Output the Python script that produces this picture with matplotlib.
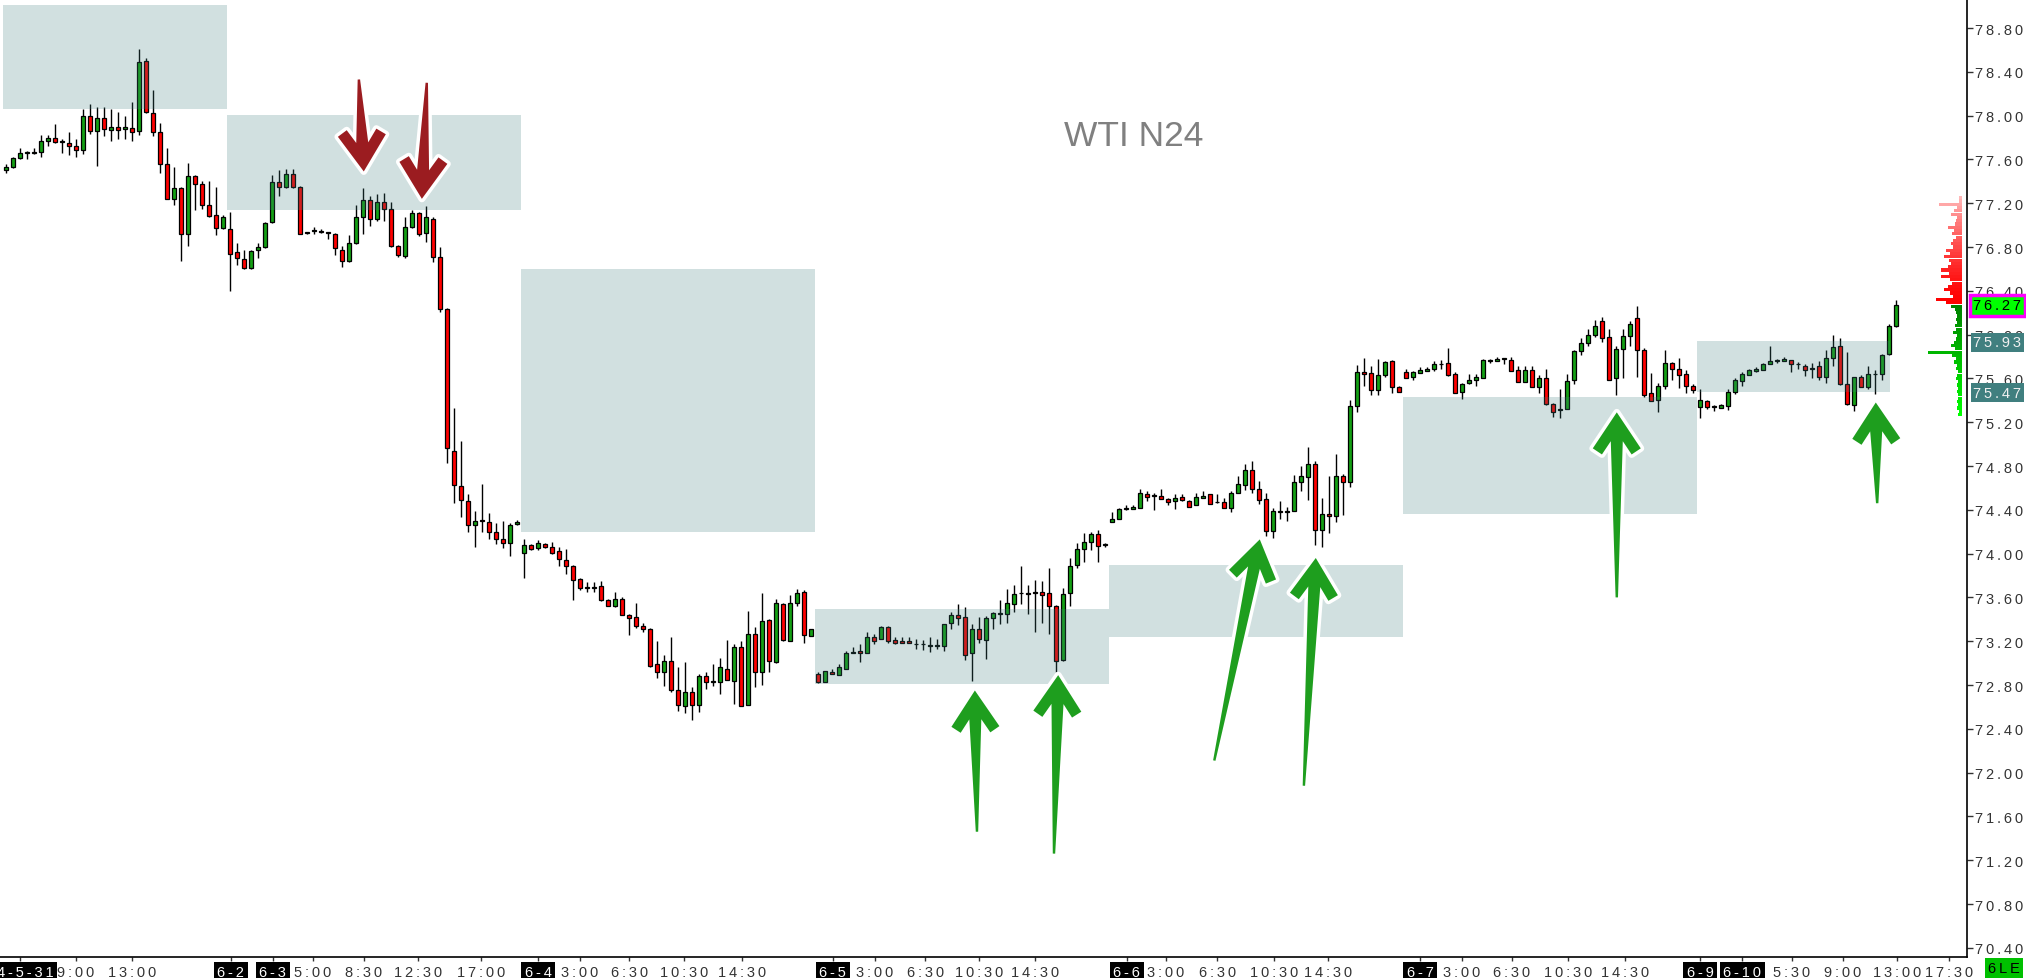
import numpy as np
import matplotlib
matplotlib.use('Agg')
import matplotlib.pyplot as plt
from matplotlib.patches import Rectangle, Polygon
import matplotlib.transforms as mtransforms

# WTI N24, 30 minute candles
opens = [77.50, 77.53, 77.61, 77.66, 77.66, 77.67, 77.77, 77.80, 77.76, 77.75,
         77.72, 77.69, 78.00, 77.86, 77.98, 77.87, 77.90, 77.88, 77.89, 77.86,
         78.50, 78.02, 77.85, 77.56, 77.24, 77.34, 76.92, 77.45, 77.38, 77.18,
         77.09, 76.97, 76.96, 76.75, 76.69, 76.61, 76.77, 76.80, 77.03, 77.39,
         77.35, 77.47, 77.35, 76.93, 76.95, 76.95, 76.94, 76.92, 76.77, 76.67,
         76.84, 77.07, 77.23, 77.06, 77.21, 77.15, 76.81, 76.72, 76.98, 77.11,
         76.93, 77.06, 76.71, 76.23, 74.94, 74.62, 74.48, 74.26, 74.31, 74.29,
         74.20, 74.13, 74.10, 74.27, 74.01, 74.08, 74.05, 74.09, 74.06, 74.02,
         73.94, 73.89, 73.77, 73.69, 73.69, 73.70, 73.58, 73.52, 73.59, 73.44,
         73.42, 73.34, 73.31, 72.99, 72.92, 73.02, 72.75, 72.61, 72.74, 72.62,
         72.88, 72.83, 72.83, 72.95, 72.84, 73.15, 72.62, 73.27, 72.92, 73.39,
         73.01, 73.54, 73.20, 73.55, 73.65, 73.25, 72.90, 72.83, 72.92, 72.89,
         72.95, 73.09, 73.11, 73.09, 73.24, 73.22, 73.33, 73.21, 73.20, 73.20,
         73.17, 73.17, 73.16, 73.16, 73.16, 73.37, 73.44, 73.42, 73.09, 73.31,
         73.21, 73.41, 73.45, 73.45, 73.54, 73.64, 73.64, 73.65, 73.65, 73.64,
         73.52, 73.03, 73.64, 73.90, 74.04, 74.11, 74.18, 74.08, 74.29, 74.32,
         74.41, 74.41, 74.42, 74.54, 74.53, 74.53, 74.50, 74.48, 74.52, 74.48,
         74.44, 74.51, 74.54, 74.47, 74.47, 74.42, 74.55, 74.63, 74.76, 74.59,
         74.50, 74.21, 74.39, 74.38, 74.39, 74.65, 74.70, 74.82, 74.22, 74.36,
         74.34, 74.71, 74.65, 75.35, 75.66, 75.65, 75.49, 75.63, 75.76, 75.52,
         75.66, 75.61, 75.65, 75.67, 75.69, 75.73, 75.74, 75.64, 75.48, 75.56,
         75.59, 75.60, 75.77, 75.76, 75.78, 75.77, 75.68, 75.57, 75.68, 75.52,
         75.60, 75.37, 75.31, 75.32, 75.59, 75.85, 75.92, 76.00, 76.12, 75.98,
         75.60, 75.87, 75.99, 76.15, 75.86, 75.47, 75.40, 75.53, 75.74, 75.69,
         75.64, 75.53, 75.34, 75.39, 75.34, 75.33, 75.35, 75.48, 75.58, 75.63,
         75.67, 75.68, 75.73, 75.76, 75.76, 75.77, 75.73, 75.71, 75.69, 75.71,
         75.61, 75.79, 75.90, 75.55, 75.36, 75.61, 75.52, 75.64, 75.64, 75.82, 76.08]
highs = [77.56, 77.62, 77.70, 77.68, 77.70, 77.82, 77.82, 77.92, 77.79, 77.85,
         77.79, 78.06, 78.11, 78.08, 78.08, 78.06, 78.03, 78.00, 78.12, 78.61,
         78.53, 78.23, 77.93, 77.70, 77.53, 77.35, 77.57, 77.46, 77.40, 77.40,
         77.35, 77.09, 77.12, 76.84, 76.77, 76.77, 76.84, 77.03, 77.46, 77.50,
         77.51, 77.51, 77.36, 76.94, 76.98, 76.96, 76.94, 76.93, 76.81, 76.91,
         77.18, 77.34, 77.27, 77.28, 77.29, 77.21, 76.82, 77.07, 77.14, 77.12,
         77.17, 77.07, 76.80, 76.24, 75.33, 75.03, 74.54, 74.39, 74.64, 74.37,
         74.28, 74.30, 74.28, 74.31, 74.13, 74.09, 74.12, 74.10, 74.11, 74.06,
         74.04, 73.90, 73.78, 73.74, 73.74, 73.75, 73.59, 73.65, 73.60, 73.45,
         73.55, 73.37, 73.32, 73.20, 73.07, 73.24, 72.96, 73.01, 72.78, 72.90,
         72.92, 72.99, 73.05, 73.21, 73.17, 73.20, 73.48, 73.33, 73.64, 73.40,
         73.59, 73.55, 73.62, 73.68, 73.67, 73.31, 72.92, 72.93, 72.95, 72.99,
         73.11, 73.15, 73.17, 73.28, 73.27, 73.34, 73.34, 73.24, 73.24, 73.24,
         73.22, 73.21, 73.24, 73.22, 73.36, 73.47, 73.54, 73.51, 73.36, 73.42,
         73.43, 73.47, 73.58, 73.68, 73.71, 73.89, 73.71, 73.76, 73.75, 73.87,
         73.53, 73.69, 73.96, 74.10, 74.19, 74.20, 74.22, 74.10, 74.38, 74.42,
         74.44, 74.44, 74.59, 74.57, 74.55, 74.59, 74.51, 74.54, 74.54, 74.49,
         74.55, 74.57, 74.54, 74.54, 74.51, 74.57, 74.71, 74.82, 74.85, 74.66,
         74.55, 74.42, 74.48, 74.43, 74.72, 74.80, 74.97, 74.85, 74.51, 74.71,
         74.91, 74.73, 75.40, 75.72, 75.79, 75.71, 75.78, 75.76, 75.77, 75.53,
         75.69, 75.67, 75.70, 75.70, 75.76, 75.77, 75.88, 75.66, 75.56, 75.64,
         75.64, 75.78, 75.78, 75.80, 75.79, 75.80, 75.71, 75.71, 75.71, 75.63,
         75.69, 75.38, 75.50, 75.64, 75.86, 75.97, 76.05, 76.13, 76.16, 76.05,
         75.90, 76.05, 76.12, 76.26, 75.88, 75.65, 75.56, 75.86, 75.75, 75.79,
         75.68, 75.55, 75.50, 75.40, 75.36, 75.37, 75.50, 75.60, 75.66, 75.69,
         75.70, 75.74, 75.90, 75.78, 75.80, 75.77, 75.75, 75.73, 75.74, 75.76,
         75.86, 76.00, 75.97, 75.84, 75.61, 75.63, 75.71, 75.68, 75.82, 76.10, 76.32]
lows = [77.48, 77.52, 77.60, 77.60, 77.65, 77.62, 77.72, 77.75, 77.66, 77.64,
        77.62, 77.65, 77.83, 77.54, 77.81, 77.77, 77.79, 77.79, 77.77, 77.82,
        78.02, 77.81, 77.48, 77.24, 77.18, 76.67, 76.81, 77.14, 77.15, 77.07,
        76.91, 76.96, 76.40, 76.64, 76.60, 76.60, 76.70, 76.79, 77.02, 77.27,
        77.34, 77.34, 76.92, 76.92, 76.92, 76.93, 76.87, 76.73, 76.62, 76.66,
        76.83, 76.92, 76.99, 77.04, 77.04, 76.80, 76.71, 76.70, 76.97, 76.90,
        76.85, 76.66, 76.21, 74.83, 74.46, 74.33, 74.20, 74.06, 74.20, 74.13,
        74.09, 74.05, 73.98, 74.26, 73.78, 74.03, 74.03, 74.05, 74.00, 73.89,
        73.81, 73.58, 73.67, 73.65, 73.65, 73.57, 73.52, 73.51, 73.44, 73.26,
        73.32, 73.28, 72.96, 72.86, 72.79, 72.74, 72.56, 72.54, 72.48, 72.55,
        72.76, 72.79, 72.72, 72.85, 72.63, 72.61, 72.62, 72.78, 72.80, 72.92,
        73.00, 73.20, 73.20, 73.52, 73.18, 73.25, 72.82, 72.83, 72.90, 72.89,
        72.95, 73.09, 73.01, 73.09, 73.17, 73.22, 73.18, 73.17, 73.18, 73.18,
        73.13, 73.12, 73.10, 73.13, 73.11, 73.31, 73.35, 73.03, 72.84, 73.18,
        73.04, 73.31, 73.36, 73.37, 73.47, 73.54, 73.45, 73.28, 73.37, 73.27,
        72.92, 73.02, 73.52, 73.87, 73.92, 74.03, 73.92, 74.06, 74.29, 74.32,
        74.40, 74.41, 74.42, 74.48, 74.40, 74.50, 74.44, 74.41, 74.48, 74.43,
        74.44, 74.51, 74.45, 74.46, 74.42, 74.38, 74.55, 74.58, 74.55, 74.45,
        74.16, 74.14, 74.32, 74.30, 74.39, 74.57, 74.49, 74.08, 74.06, 74.19,
        74.29, 74.35, 74.61, 75.29, 75.53, 75.45, 75.45, 75.61, 75.47, 75.48,
        75.60, 75.59, 75.65, 75.67, 75.67, 75.69, 75.62, 75.47, 75.41, 75.55,
        75.53, 75.60, 75.74, 75.76, 75.73, 75.67, 75.57, 75.57, 75.52, 75.47,
        75.36, 75.25, 75.24, 75.32, 75.55, 75.81, 75.90, 75.98, 75.93, 75.59,
        75.45, 75.60, 75.90, 75.61, 75.43, 75.39, 75.29, 75.50, 75.59, 75.51,
        75.47, 75.47, 75.24, 75.32, 75.30, 75.33, 75.31, 75.46, 75.53, 75.63,
        75.66, 75.68, 75.73, 75.74, 75.76, 75.66, 75.69, 75.62, 75.60, 75.59,
        75.56, 75.71, 75.54, 75.36, 75.30, 75.52, 75.50, 75.46, 75.59, 75.81, 76.07]
closes = [77.53, 77.61, 77.66, 77.66, 77.67, 77.77, 77.80, 77.76, 77.76, 77.72,
          77.69, 78.00, 77.86, 77.98, 77.88, 77.90, 77.87, 77.90, 77.85, 78.49,
          78.03, 77.85, 77.56, 77.24, 77.34, 76.92, 77.45, 77.38, 77.18, 77.08,
          76.97, 77.07, 76.74, 76.70, 76.61, 76.76, 76.80, 77.02, 77.39, 77.35,
          77.47, 77.35, 76.92, 76.94, 76.95, 76.94, 76.93, 76.79, 76.67, 76.84,
          77.07, 77.23, 77.06, 77.21, 77.15, 76.81, 76.73, 76.98, 77.11, 76.92,
          77.07, 76.71, 76.23, 74.96, 74.63, 74.49, 74.26, 74.30, 74.30, 74.20,
          74.13, 74.10, 74.26, 74.29, 74.08, 74.04, 74.10, 74.06, 74.01, 73.95,
          73.89, 73.76, 73.69, 73.69, 73.69, 73.58, 73.52, 73.59, 73.44, 73.41,
          73.34, 73.31, 72.97, 72.92, 73.02, 72.75, 72.62, 72.74, 72.62, 72.88,
          72.83, 72.83, 72.96, 72.85, 73.15, 72.61, 73.27, 72.92, 73.38, 73.02,
          73.55, 73.21, 73.55, 73.64, 73.26, 73.31, 72.83, 72.93, 72.90, 72.96,
          73.09, 73.10, 73.09, 73.24, 73.20, 73.33, 73.20, 73.18, 73.18, 73.18,
          73.17, 73.17, 73.16, 73.16, 73.36, 73.44, 73.41, 73.07, 73.31, 73.22,
          73.41, 73.46, 73.45, 73.55, 73.63, 73.64, 73.63, 73.64, 73.62, 73.52,
          73.02, 73.63, 73.89, 74.04, 74.11, 74.18, 74.07, 74.08, 74.32, 74.41,
          74.41, 74.43, 74.55, 74.52, 74.53, 74.50, 74.47, 74.51, 74.49, 74.43,
          74.52, 74.53, 74.45, 74.47, 74.42, 74.55, 74.64, 74.76, 74.59, 74.49,
          74.21, 74.39, 74.38, 74.39, 74.65, 74.71, 74.82, 74.22, 74.36, 74.34,
          74.71, 74.65, 75.35, 75.66, 75.64, 75.49, 75.63, 75.75, 75.52, 75.48,
          75.60, 75.66, 75.68, 75.69, 75.73, 75.73, 75.63, 75.47, 75.55, 75.59,
          75.61, 75.77, 75.76, 75.78, 75.78, 75.67, 75.57, 75.68, 75.52, 75.60,
          75.37, 75.29, 75.32, 75.58, 75.85, 75.92, 76.00, 76.08, 75.97, 75.59,
          75.87, 75.99, 76.10, 75.86, 75.45, 75.39, 75.53, 75.74, 75.69, 75.63,
          75.53, 75.49, 75.40, 75.34, 75.34, 75.36, 75.48, 75.59, 75.64, 75.68,
          75.69, 75.73, 75.76, 75.76, 75.78, 75.73, 75.73, 75.68, 75.69, 75.61,
          75.79, 75.89, 75.55, 75.37, 75.61, 75.52, 75.64, 75.64, 75.81, 76.08, 76.27]

# session boxes: start bar, end bar, low, high
box_start = [-0.5, 31.5, 73.5, 115.5, 157.5, 199.5, 241.5]
box_end = [31.5, 73.5, 115.5, 157.5, 199.5, 241.5, 269.2]
box_low = [78.06, 77.14, 74.20, 72.81, 73.24, 74.36, 75.48]
box_high = [79.01, 78.01, 76.60, 73.49, 73.90, 75.43, 75.94]

# time axis labels (bar index)
tick_pos = [2, 10, 18, 32.1, 38.1, 43.8, 51.1, 58.8, 67.9, 76, 82, 89, 96.8, 105.1,
            118.1, 124.1, 131.3, 139, 147, 160.1, 165.7, 173, 181.1, 188.8,
            202, 208, 215.1, 223.1, 231.3, 242, 248, 255.1, 262.4, 270.1, 277.6]
tick_text = ['24-5-31', '9:00', '13:00', '6-2', '6-3', '5:00', '8:30', '12:30', '17:00',
             '6-4', '3:00', '6:30', '10:30', '14:30', '6-5', '3:00', '6:30', '10:30',
             '14:30', '6-6', '3:00', '6:30', '10:30', '14:30', '6-7', '3:00', '6:30',
             '10:30', '14:30', '6-9', '6-10', '5:30', '9:00', '13:00', '17:30']

# arrows: tail (bar, price) -> tip (bar, price)
arrow_tail_x = [50.4, 60.1, 138.7, 149.7, 172.6, 185.4, 230.1, 267.3]
arrow_tail_y = [78.33, 78.30, 71.46, 71.26, 72.11, 71.88, 73.60, 74.46]
arrow_tip_x = [51.1, 59.4, 138.4, 150.3, 179.1, 187.1, 230.1, 267.1]
arrow_tip_y = [77.49, 77.24, 72.75, 72.89, 74.13, 73.96, 75.29, 75.38]
arrow_col = ['#9b1c20', '#9b1c20', '#1e9e1e', '#1e9e1e', '#1e9e1e', '#1e9e1e',
             '#1e9e1e', '#1e9e1e']

# volume profile (price, length)
vp_price = [77.25, 77.22, 77.19, 77.16, 77.13, 77.10, 77.07, 77.04, 77.01, 76.98,
            76.95, 76.92, 76.89, 76.86, 76.83, 76.80, 76.77, 76.74, 76.71, 76.68,
            76.65, 76.62, 76.59, 76.56, 76.53, 76.50, 76.47, 76.44, 76.41, 76.38,
            76.35, 76.32, 76.29, 76.26, 76.23, 76.20, 76.17, 76.14, 76.11, 76.08,
            76.05, 76.02, 75.99, 75.96, 75.93, 75.90, 75.87, 75.84, 75.81, 75.78,
            75.75, 75.72, 75.69, 75.66, 75.63, 75.60, 75.57, 75.54, 75.51, 75.48,
            75.45, 75.42, 75.39, 75.36, 75.33, 75.30, 75.27]
vp_len = [3, 3, 23, 5, 8, 11, 5, 6, 7, 14,
          8, 10, 6, 9, 11, 9, 16, 12, 18, 13,
          11, 14, 21, 13, 21, 12, 10, 14, 18, 12,
          9, 26, 16, 11, 7, 6, 5, 6, 5, 7,
          6, 9, 5, 6, 8, 11, 7, 34, 10, 6,
          8, 5, 6, 4, 5, 6, 4, 5, 4, 5,
          4, 4, 5, 4, 5, 3, 4]

last_price = 76.27
level_prices = [75.93, 75.47]

yticks = np.arange(70.40, 78.81, 0.40)


def spaced(s):
    return '\u2009'.join(s)


W, H = 2026, 979
fig = plt.figure(figsize=(W / 100, H / 100), dpi=100)
fig.patch.set_facecolor('white')
ax = fig.add_axes([0, 21 / H, 1967 / W, 958 / H])
ax.set_xlim(-0.867, 280.13)
ax.set_ylim(70.316, 79.065)
lab_font = ['Liberation Sans', 'DejaVu Sans']

o = np.array(opens); h = np.array(highs); l = np.array(lows); c = np.array(closes)
x = np.arange(len(o))
up = c >= o
body_lo = np.minimum(o, c)
body_h = np.maximum(np.abs(c - o), 0.004)

ax.vlines(x, l, h, color='black', lw=1.0, zorder=2)
ax.bar(x, body_h, bottom=body_lo, width=0.58,
       color=np.where(up, '#14a014', '#ff0000'), edgecolor='black', lw=0.9, zorder=3)

for x0, x1, y0, y1 in zip(box_start, box_end, box_low, box_high):
    ax.add_patch(Rectangle((x0, y0), x1 - x0, y1 - y0, facecolor='#408080', alpha=0.24,
                           edgecolor='none', zorder=4))


def arrow_pts(tail, tip, head_len=36, head_w=24, barb_t=11, shaft_w=6, tail_w=1.2):
    p0 = ax.transData.transform(tail)
    p1 = ax.transData.transform(tip)
    d = p1 - p0
    L = np.hypot(*d)
    u = d / L
    n = np.array([-u[1], u[0]])
    nb = np.hypot(head_len, head_w)
    db = np.array([head_len, head_w]) / nb
    B = np.array([head_len, head_w])
    C = B + barb_t * np.array([db[1], -db[0]])
    k = (C[1] - shaft_w) / db[1]
    N = C - k * db
    loc = [(0, 0), tuple(B), tuple(C), tuple(N), (L, tail_w),
           (L, -tail_w), (N[0], -N[1]), (C[0], -C[1]), (B[0], -B[1])]
    pts = np.array([p1 - b * u + s * n for b, s in loc])
    return ax.transData.inverted().transform(pts)


for tx, ty, hx, hy, col in zip(arrow_tail_x, arrow_tail_y, arrow_tip_x, arrow_tip_y, arrow_col):
    pts = arrow_pts((tx, ty), (hx, hy))
    ax.add_patch(Polygon(pts, closed=True, facecolor='white', edgecolor='white', lw=5,
                         joinstyle='round', zorder=6))
    ax.add_patch(Polygon(pts, closed=True, facecolor=col, edgecolor='none', zorder=7))

ax.text(1134 / 1967, 1 - 137 / 958, 'WTI N24', transform=ax.transAxes, ha='center',
        va='center', fontsize=25.5, color='#808080', family=lab_font)

# axes styling
for s in ['left', 'top']:
    ax.spines[s].set_visible(False)
for s in ['right', 'bottom']:
    ax.spines[s].set_color('black')
    ax.spines[s].set_linewidth(1.2)
ax.yaxis.tick_right()
ax.set_yticks(yticks)
ax.set_yticklabels([spaced('%.2f' % v) for v in yticks], family=lab_font)
ax.tick_params(axis='y', length=4, width=1, pad=2, labelsize=10.5, colors='#333333')
ax.set_xticks(tick_pos)
ax.set_xticklabels([spaced(t) for t in tick_text], family=lab_font)
ax.tick_params(axis='x', length=3, width=1, pad=3, labelsize=10.5, colors='#333333')
for t in ax.get_xticklabels():
    if '-' in t.get_text():
        t.set_color('white')
        t.set_bbox(dict(facecolor='black', edgecolor='none', pad=2.5))

# price tags on right axis
tr = mtransforms.blended_transform_factory(ax.transAxes, ax.transData)
ax.text(1.0032, last_price, spaced('%.2f' % last_price), transform=tr, ha='left', va='center',
        fontsize=10.5, color='black', family=lab_font, zorder=10, clip_on=False,
        bbox=dict(facecolor='#00ff00', edgecolor='#ff00ff', lw=2.5, pad=2.5))
for p in level_prices:
    ax.text(1.0032, p, spaced('%.2f' % p), transform=tr, ha='left', va='center',
            fontsize=10.5, color='#f0f0f0', family=lab_font, zorder=10, clip_on=False,
            bbox=dict(facecolor='#407f7f', edgecolor='none', pad=2.0))

# volume profile at right edge
vax = fig.add_axes([1900 / W, 21 / H, 62 / W, 958 / H])
vax.set_ylim(70.316, 79.065)
vax.set_xlim(62, 0)
vax.axis('off')
vax.patch.set_alpha(0)
vcols = []
for p in vp_price:
    if p > last_price:
        f = (p - last_price) / (max(vp_price) - last_price)
        vcols.append((1.0, 0.72 * f ** 1.5, 0.72 * f ** 1.5))
    else:
        f = (last_price - p) / (last_price - min(vp_price))
        vcols.append((0.0, 0.5 + 0.5 * f, 0.0))
vax.barh(vp_price, vp_len, height=0.028, left=0, color=vcols)

fig.text(2004 / W, 10 / H, spaced('6LE'), ha='center', va='center', fontsize=10.5,
         color='black', family=lab_font,
         bbox=dict(facecolor='#00c000', edgecolor='none', pad=2.5))

fig.savefig('out.png', dpi=100, facecolor='white')
